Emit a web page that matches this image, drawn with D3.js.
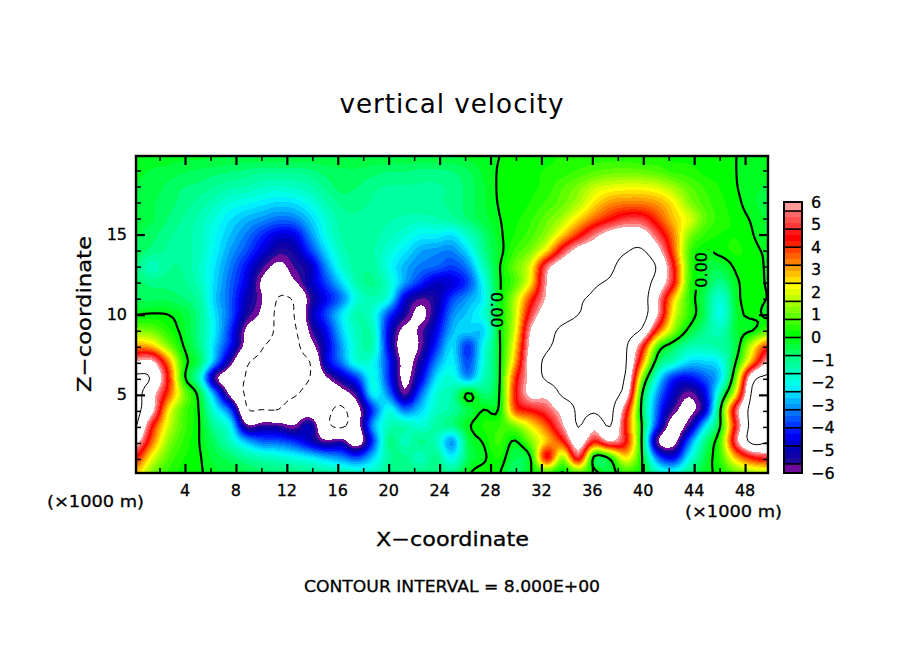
<!DOCTYPE html>
<html><head><meta charset="utf-8">
<script src="https://cdn.jsdelivr.net/npm/d3@7"></script>
<style>html,body{margin:0;padding:0;background:#fff}svg{display:block}text{font-family:"DejaVu Sans",sans-serif;fill:#000;stroke:#000;stroke-width:.3px}</style>
</head><body><svg id="c" width="904" height="654"></svg>
<script>
// Vertical velocity. One array per grid row, top of the plot first.
const row00=[-.1,-.1,-.1,-.2,-.2,-.2,-.3,-.3,-.3,-.3,-.3,-.3,-.3,-.3,-.3,-.3,-.3,-.3,-.3,-.3,-.3,-.2,-.1,0,.1,.15,.2,.3,.35,.4,.4,.35,.3,.3,.2,.2,.15,.1,0,-.1,-.1];
const row01=[-.2,-.3,-.4,-.5,-.6,-.7,-.8,-.9,-1,-1,-1,-.9,-.7,-.6,-.6,-.7,-.8,-.8,-.9,-.9,-.8,-.6,-.2,.03,.1,.2,.3,.4,.6,.8,.95,1,.95,.8,.5,.4,.2,.15,0,-.2,-.2];
const row02=[-.3,-.4,-.6,-.8,-.9,-1.1,-1.3,-1.4,-1.6,-1.7,-1.6,-1.4,-1,-.7,-.8,-1,-1.1,-1.1,-1.1,-1.1,-1,-.7,-.3,.05,.1,.2,.4,.8,1.2,1.8,2.1,2.2,2.2,2,1.5,.9,.5,.25,.02,-.2,-.3];
const row03=[-.4,-.5,-.7,-.9,-1.2,-1.5,-1.9,-2.1,-2.3,-2.5,-2.4,-2,-1.4,-1,-1,-1.1,-1.2,-1.2,-1.1,-1.1,-1,-.7,-.3,.03,.1,.3,.6,1,1.6,2.5,3.2,3.4,3.4,3.1,2.4,1.3,.7,.35,.1,-.2,-.4];
const row04=[-.4,-.5,-.8,-1.1,-1.4,-1.9,-2.4,-2.8,-3.1,-3.4,-3.3,-2.6,-1.8,-1.2,-1.1,-1.2,-1.3,-1.4,-1.5,-1.4,-1.2,-.8,-.4,-.02,.2,.5,1,1.6,2.6,3.6,4.4,5,5,4,2.8,2,.9,.4,.2,-.05,-.3];
const row05=[-.5,-.7,-1,-1.2,-1.5,-2.1,-2.7,-3.3,-4,-4.6,-4.5,-3.2,-2,-1.3,-1.1,-1.2,-1.5,-1.8,-2.2,-2.2,-2.4,-1.6,-.8,-.1,.3,.7,1.4,2.7,4.2,5.6,6.6,7,6.8,5.2,3.4,1.3,.5,.25,.25,.03,-.3];
const row06=[-.6,-.9,-1.1,-1.2,-1.5,-2.2,-3,-3.7,-4.6,-5.4,-5.2,-3.9,-2.5,-1.5,-1.2,-1.3,-1.8,-2.3,-2.9,-3.1,-3.2,-2.4,-1,-.2,.6,1.2,2.6,5,6.6,7,7.4,7.9,8.2,6.6,3.8,.8,.02,.15,.3,.15,-.1];
const row07=[-.9,-1.5,-1.1,-1.1,-1.6,-2.4,-3.3,-4.3,-5.5,-6.3,-5.6,-5,-3.2,-1.8,-1.2,-1.2,-2,-2.8,-3.3,-3.5,-3.8,-3.2,-1.5,-.05,1,2.2,5.5,7,7.2,7.5,7.8,8.5,9,7.8,4.6,.8,-.3,-.4,.1,.25,-.08];
const row08=[-.7,-.9,-.9,-1,-1.5,-2.5,-3.5,-4.6,-6.2,-7,-6.2,-5,-3.8,-2.5,-1.3,-1,-1.7,-3,-4,-4.8,-4.6,-3.8,-2,-.1,.8,2.5,6,7.4,7.6,7.9,8.1,8.4,8.8,7.2,4.6,.7,-.3,-1,-.1,.2,-.05];
const row09=[-.6,-.6,-.6,-.8,-1.2,-2.6,-3.6,-5,-6,-8.1,-7.8,-5.6,-4.4,-3.3,-1.8,-1.4,-2,-4.6,-5.6,-5.2,-3.8,-3,-2.2,-.1,1.6,4,6.2,7.5,7.9,8.1,8.3,8.5,8.8,6.2,2.8,.5,-.6,-1.8,-.2,.2,-.02];
const row10=[0,.05,0,-.3,-1,-2.4,-3.6,-5.3,-6.3,-8.4,-8,-5.3,-3.8,-2.4,-1.3,-1.8,-3.8,-5.3,-6.3,-5,-3.2,-2.6,-1.8,-.05,1.8,5,7,7.6,8,8.2,8.4,8.6,8.8,6,2.2,.5,-.6,-2,-.3,.1,-.1];
const row11=[1.2,1,.4,-.2,-1,-2.3,-4,-6.2,-7,-8.3,-8.3,-5.8,-4.4,-2.6,-1.5,-1.5,-4.5,-6.3,-5.8,-4.5,-2.8,-2.5,-2.5,-.05,2,6.1,7.5,8.2,8.4,8.5,8.6,8.6,7.8,4,1.4,-.2,-1,-1.5,-.3,-.03,.8];
const row12=[3.2,2.8,1.3,0,-.9,-2.6,-4.3,-6.5,-7.9,-8.4,-8.6,-6.6,-4.8,-3,-1.6,-1.4,-4.5,-6.8,-5.8,-4,-2.4,-3.9,-2,-.1,2.5,6.5,7.8,8.3,8.4,8.5,8.4,8.2,5,.8,-.5,-1.3,-1.4,-1.2,-.4,2,4];
const row13=[6.2,6.3,3.5,.4,-.6,-3,-5.6,-7.8,-8.3,-8.5,-8.6,-8,-4.8,-3.3,-1.8,-2,-4,-6.4,-5.2,-3.2,-2.2,-3.7,-1.8,-.1,3,6.8,8.3,8.5,8.5,8.4,8.3,8.1,3.5,-.5,-1.5,-2.5,-2.5,-2.1,.1,3.2,6.2];
const row14=[8.4,7.8,4.5,.3,-1.5,-5.6,-7,-8.1,-8.5,-8.6,-8.4,-8,-6.2,-5,-3.8,-2,-4,-6.3,-4.6,-2.4,-1.8,-3,-1.5,-.1,4,6.5,8.3,8.6,8.4,8.4,8.3,7.8,1.5,-2,-4,-4.3,-3.6,-2.4,1.2,7.2,8.4];
const row15=[8.6,6.6,4,1.3,-.3,-3.2,-6.4,-8.2,-8.5,-8.5,-8.2,-7.5,-7.4,-6.6,-5.3,-2.2,-3.3,-5.7,-3.5,-1.8,-1.3,.1,-.8,.02,4.2,6.4,6.5,8.3,8.5,8.6,8.6,7,.2,-3,-4.8,-5.8,-4.5,-1.2,2.5,8.3,8.9];
const row16=[8.4,6.5,2.6,.8,-.05,-2,-3.8,-7.8,-8,-8,-7,-7,-7.5,-8.3,-6.5,-3.8,-2,-3.4,-2.6,-1.6,-1.2,-.5,0,.1,3.8,4.5,5.2,6.6,8.3,8.3,8.5,5,-.2,-3.5,-5.6,-6.3,-4.8,0,5.3,8.6,8.8];
const row17=[8.1,4.6,2,.7,0,-1.2,-2.2,-5.8,-5.5,-5.6,-6,-5,-7.5,-8.3,-6.6,-3,-1.5,-1.4,-1.8,-1.2,-.9,-.1,.3,.5,1.2,2.4,3.8,5.8,8.1,6.5,8.1,4.2,.05,-4,-6.6,-5.5,-2.5,.05,4.8,8.6,8.7];
const row18=[6.5,3.6,1.4,.5,0,-.7,-1.6,-2.8,-3.5,-3.6,-4,-4.8,-5.8,-5.5,-6.8,-3.8,-1,-1.5,-1,-1.5,-3,-.5,.05,.6,-.05,1.2,2.8,4.2,7,4.5,6,4.5,0,-5.8,-6.5,-3.5,-1,.8,5.5,8.5,8.2];
const row19=[4.4,2.2,.9,.3,.05,-.4,-.7,-1.2,-1.5,-1.7,-2,-2.3,-2.8,-3.2,-3.8,-2.6,-1.2,-1,-1.5,-1,-2.2,-.6,-.1,.3,-.5,.1,4.5,1.5,5,-.2,.3,2.5,.1,-3.5,-4.5,-2.2,-.5,.6,3,4.5,5];
const row20=[2.8,1.2,.5,.15,.05,-.2,-.4,-.5,-.7,-.8,-.9,-1,-1.2,-1.4,-1.6,-1.6,-1,-.8,-1,-.8,-1,-.1,.2,.05,-.8,-.02,.6,-.05,.8,.2,-.3,.5,.05,-1.5,-2,-1,-.2,.2,1,1.5,1.6];
const field=[row00,row01,row02,row03,row04,row05,row06,row07,row08,row09,row10,row11,row12,row13,row14,row15,row16,row17,row18,row19,row20];

// colour shades bottom to top, with the value where each shade starts
const shades=["#6e0a9c","#1e0a9a","#1000a8","#0000b8","#0000d4","#0000f0","#0014ff","#0034ff","#0054ff","#0074ff","#0094ff","#00b4ff","#00d4ff","#00f0ff","#00ffe8","#00ffd0","#00ffb8","#00ffa0","#00ff88","#00ff60","#00ff40","#00ff20","#00ff00","#20ff00","#40ff00","#60ff00","#80ff00","#a0ff00","#c0ff00","#e0ff00","#ffff00","#ffe000","#ffc000","#ffa000","#ff8000","#ff6000","#ff4000","#ff2000","#ff0000","#ff1818","#ff3838","#ff5050","#ff6868","#ff9999"];
const boxEdges=[-6,-5.6,-4.8,-4,-3.2,-2.4,-1.6,-.8,0,.8,1.6,2.4,3.2,4,4.8,5.6,6];
const barLabels=[6,5,4,3,2,1,0,-1,-2,-3,-4,-5,-6];
const xMajor=[4,8,12,16,20,24,28,32,36,40,44,48];
const xMinor=[2,6,10,14,18,22,26,30,34,38,42,46];
const zMajor=[5,10,15];
const zMinor=[1,2,3,4,6,7,8,9,11,12,13,14,16,17,18,19];
const xDomain=[0.15,49.8], zDomain=[0.125,19.9];
const zeroLabels=[{x:28.5,z:10.3,rot:90},{x:44.55,z:12.8,rot:-90}];

const L=136,R=768,T=156,B=473;
const svg=d3.select("#c");
const x=d3.scaleLinear().domain(xDomain).range([L,R]);
const z=d3.scaleLinear().domain(zDomain).range([B,T]);

const ny=field.length,nx=field[0].length;
field.forEach((r,i)=>{if(r.length!==nx)throw new Error("row "+i+" has "+r.length)});

// resample for rendering only (Catmull-Rom passes through the read values)
const f=4,W=(nx-1)*f+1,H=(ny-1)*f+1,grid=new Float64Array(W*H);
const cr=(p0,p1,p2,p3,t)=>0.5*(2*p1+(p2-p0)*t+(2*p0-5*p1+4*p2-p3)*t*t+(3*p1-p0-3*p2+p3)*t*t*t);
const at=(i,j)=>field[Math.max(0,Math.min(ny-1,j))][Math.max(0,Math.min(nx-1,i))];
for(let j=0;j<H;j++)for(let i=0;i<W;i++){
  const a=i/f,b=j/f,i0=Math.min(nx-2,Math.floor(a)),j0=Math.min(ny-2,Math.floor(b)),u=a-i0,v=b-j0;
  const c=[-1,0,1,2].map(d=>cr(at(i0-1,j0+d),at(i0,j0+d),at(i0+1,j0+d),at(i0+2,j0+d),u));
  grid[j*W+i]=cr(c[0],c[1],c[2],c[3],v);
}

const cx=d3.scaleLinear().domain([0.5,W-0.5]).range([L,R]);
const cy=d3.scaleLinear().domain([0.5,H-0.5]).range([T,B]);
const path=d3.geoPath(d3.geoTransform({point(a,b){this.stream.point(cx(a),cy(b))}}));
const contours=d3.contours().size([W,H]);

const defs=svg.append("defs");
defs.append("clipPath").attr("id","plot").append("rect").attr("x",L).attr("y",T).attr("width",R-L).attr("height",B-T);

// fill levels
const levels=[-6,-5.6];
for(let b=1;b<boxEdges.length-2;b++){const s=(boxEdges[b+1]-boxEdges[b])/3;levels.push(boxEdges[b]+s,boxEdges[b]+2*s,boxEdges[b+1]);}
levels.push(6);
const plot=svg.append("g").attr("clip-path","url(#plot)");
plot.append("rect").attr("x",L).attr("y",T).attr("width",R-L).attr("height",B-T).attr("fill","#fff");
shades.forEach((c,i)=>{
  plot.append("path").datum(contours.contour(grid,levels[i])).attr("d",path).attr("fill",c).attr("shape-rendering","crispEdges");
});
plot.append("path").datum(contours.contour(grid,6)).attr("d",path).attr("fill","#fff").attr("shape-rendering","crispEdges");

// contour lines; the zero line is broken where its labels sit
const mask=defs.append("mask").attr("id","gaps").attr("maskUnits","userSpaceOnUse").attr("x",0).attr("y",0).attr("width",904).attr("height",654);
mask.append("rect").attr("width",904).attr("height",654).attr("fill","#fff");
zeroLabels.forEach(d=>mask.append("rect").attr("x",x(d.x)-12).attr("y",z(d.z)-20).attr("width",24).attr("height",40).attr("fill","#000"));
plot.append("path").datum(contours.contour(grid,8)).attr("d",path).attr("fill","none").attr("stroke","#000").attr("stroke-width",1);
plot.append("path").datum(contours.contour(grid,-8)).attr("d",path).attr("fill","none").attr("stroke","#000").attr("stroke-width",1).attr("stroke-dasharray","6,4");
plot.append("g").attr("mask","url(#gaps)").append("path").datum(contours.contour(grid,0)).attr("d",path).attr("fill","none").attr("stroke","#000").attr("stroke-width",2.2);
zeroLabels.forEach(d=>{
  svg.append("text").attr("transform",`translate(${x(d.x)},${z(d.z)}) rotate(${d.rot})`).attr("text-anchor","middle").attr("dominant-baseline","central").attr("font-size",16).text("0.00");
});

// frame and ticks
function ticks(axis,vals,len,w){
  return g=>{g.call(axis.tickValues(vals).tickSize(len).tickSizeOuter(0).tickFormat(""));g.select(".domain").remove();g.selectAll(".tick line").attr("stroke","#000").attr("stroke-width",w);};
}
const fmt=d3.format("d");
svg.append("g").attr("transform",`translate(0,${B})`).call(ticks(d3.axisBottom(x),xMajor,-9,2.2));
svg.append("g").attr("transform",`translate(0,${B})`).call(ticks(d3.axisBottom(x),xMinor,-5,1.5));
svg.append("g").attr("transform",`translate(0,${T})`).call(ticks(d3.axisTop(x),xMajor,-9,2.2));
svg.append("g").attr("transform",`translate(0,${T})`).call(ticks(d3.axisTop(x),xMinor,-5,1.5));
svg.append("g").attr("transform",`translate(${L},0)`).call(ticks(d3.axisLeft(z),zMajor,-9,2.2));
svg.append("g").attr("transform",`translate(${L},0)`).call(ticks(d3.axisLeft(z),zMinor,-5,1.5));
svg.append("g").attr("transform",`translate(${R},0)`).call(ticks(d3.axisRight(z),zMajor,-9,2.2));
svg.append("g").attr("transform",`translate(${R},0)`).call(ticks(d3.axisRight(z),zMinor,-5,1.5));
svg.append("rect").attr("x",L).attr("y",T).attr("width",R-L).attr("height",B-T).attr("fill","none").attr("stroke","#000").attr("stroke-width",2.4);

function label(px,py,str,size,len,anchor){
  const t=svg.append("text").attr("x",px).attr("y",py).attr("font-size",size).attr("text-anchor",anchor||"middle").attr("dominant-baseline","central").text(str);
  if(len)t.attr("textLength",len).attr("lengthAdjust","spacingAndGlyphs");
  return t;
}
xMajor.forEach(v=>label(x(v),490,fmt(v),16));
zMajor.forEach(v=>label(127,z(v),fmt(v),16,null,"end"));
label(95.5,501,"(×1000 m)",16,97);
label(733.5,511,"(×1000 m)",16,97);
label(452,103,"vertical velocity",27,225).style("stroke-width","0").attr("letter-spacing",1);
label(452.5,539,"X\u2212coordinate",20,153);
svg.append("text").attr("transform","translate(84,314) rotate(-90)").attr("text-anchor","middle").attr("dominant-baseline","central").attr("font-size",20).attr("textLength",156).attr("lengthAdjust","spacingAndGlyphs").text("Z\u2212coordinate");
label(452,586,"CONTOUR INTERVAL = 8.000E+00",16,296);

// colour bar
const barX=784,barW=18;
const bar=d3.scaleLinear().domain([-6,6]).range([473,202]);
shades.forEach((c,i)=>{
  svg.append("rect").attr("x",barX).attr("width",barW).attr("y",bar(levels[i+1])).attr("height",bar(levels[i])-bar(levels[i+1])).attr("fill",c).attr("shape-rendering","crispEdges");
});
boxEdges.forEach(v=>svg.append("line").attr("x1",barX).attr("x2",barX+barW).attr("y1",bar(v)).attr("y2",bar(v)).attr("stroke","#000").attr("stroke-width",1.6));
svg.append("rect").attr("x",barX).attr("y",bar(6)).attr("width",barW).attr("height",bar(-6)-bar(6)).attr("fill","none").attr("stroke","#000").attr("stroke-width",2);
barLabels.forEach(v=>label(811,bar(v),String(v).replace("-","\u2212"),16,null,"start"));
</script></body></html>
